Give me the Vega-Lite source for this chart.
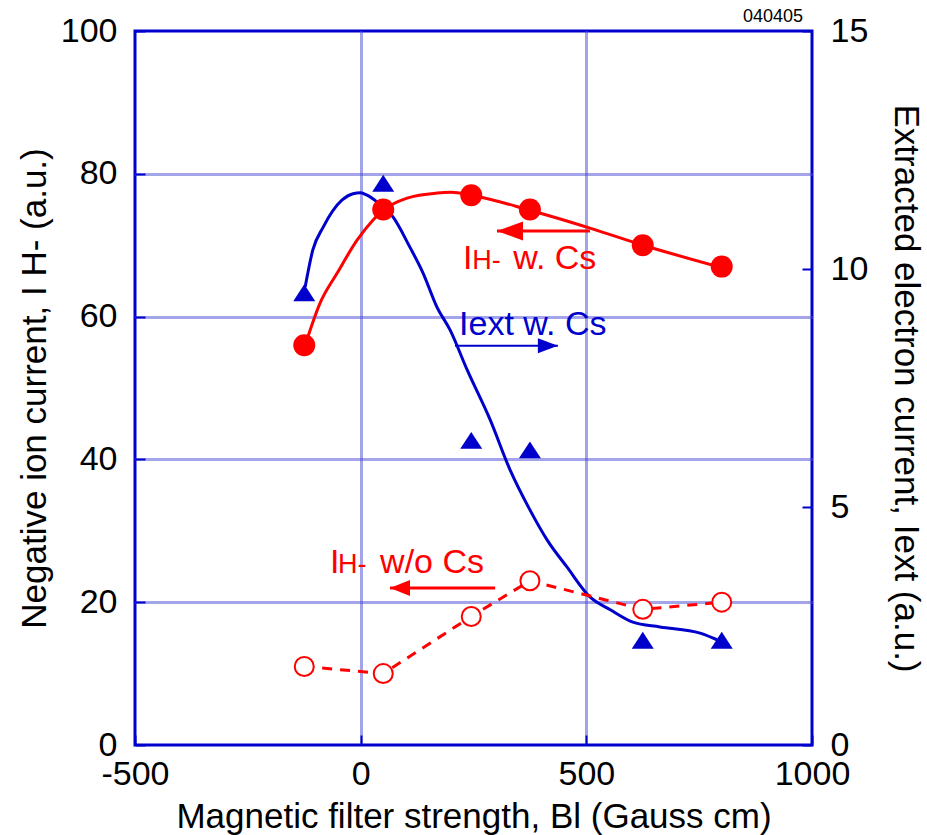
{
  "$schema": "https://vega.github.io/schema/vega-lite/v6.json",
  "width": 677,
  "height": 714,
  "autosize": "none",
  "padding": {"left": 135, "top": 31, "right": 115, "bottom": 90},
  "background": "white",
  "config": {
    "view": {"stroke": "#0000cc", "strokeWidth": 3},
    "font": "Liberation Sans",
    "axis": {
      "labelFont": "Liberation Sans",
      "titleFont": "Liberation Sans",
      "labelColor": "black",
      "titleColor": "black",
      "labelFontSize": 34,
      "titleFontSize": 35,
      "titleFontWeight": "normal",
      "domain": false,
      "tickColor": "#0000cc",
      "tickWidth": 2,
      "tickSize": -10,
      "labelFlush": false,
      "labelOverlap": false,
      "labelExpr": "'' + datum.value"
    }
  },
  "datasets": {
    "withCs": [
      {"x": -125, "y": 56}, {"x": 50, "y": 75}, {"x": 245, "y": 77},
      {"x": 375, "y": 75}, {"x": 625, "y": 70}, {"x": 800, "y": 67}
    ],
    "withoutCs": [
      {"x": -125, "y": 11}, {"x": 50, "y": 10}, {"x": 245, "y": 18},
      {"x": 375, "y": 23}, {"x": 625, "y": 19}, {"x": 800, "y": 20}
    ],
    "iext": [
      {"x": -125, "y": 9.5}, {"x": 50, "y": 11.8}, {"x": 245, "y": 6.4},
      {"x": 375, "y": 6.2}, {"x": 625, "y": 2.2}, {"x": 800, "y": 2.2}
    ],
    "fitRed": [
      {"x": -123, "y": 56.0}, {"x": -90, "y": 61.9}, {"x": -52, "y": 66.1},
      {"x": -8, "y": 70.7}, {"x": 27, "y": 73.5}, {"x": 50, "y": 74.9},
      {"x": 103, "y": 76.6}, {"x": 169, "y": 77.3}, {"x": 200, "y": 77.4},
      {"x": 245, "y": 77.0}, {"x": 375, "y": 74.9}, {"x": 508, "y": 72.4},
      {"x": 626, "y": 70.0}, {"x": 803, "y": 66.8}
    ],
    "fitBlue": [
      {"x": -123, "y": 9.62}, {"x": -106, "y": 10.40}, {"x": -83, "y": 10.88},
      {"x": -41, "y": 11.45}, {"x": -17, "y": 11.58}, {"x": 0, "y": 11.6}, {"x": 14, "y": 11.55},
      {"x": 36, "y": 11.41}, {"x": 72, "y": 11.09}, {"x": 109, "y": 10.46},
      {"x": 138, "y": 9.92}, {"x": 169, "y": 9.20}, {"x": 198, "y": 8.72},
      {"x": 236, "y": 7.88}, {"x": 287, "y": 6.83}, {"x": 331, "y": 5.78},
      {"x": 375, "y": 4.94}, {"x": 413, "y": 4.31}, {"x": 457, "y": 3.74},
      {"x": 508, "y": 3.11}, {"x": 553, "y": 2.84}, {"x": 603, "y": 2.58},
      {"x": 663, "y": 2.48}, {"x": 752, "y": 2.35}, {"x": 790, "y": 2.21},
      {"x": 803, "y": 2.16}
    ],
    "arrows": [
      {"name": "wCs", "x": 508, "x2": 302, "y": 72.0},
      {"name": "iext", "x": 209, "x2": 437, "y": 55.9},
      {"name": "woCs", "x": 298, "x2": 65, "y": 22.0}
    ],
    "bigRed": [
      {"x": 227, "y": 66.7, "t": "I"},
      {"x": 338, "y": 66.7, "t": "w. Cs"},
      {"x": -68, "y": 24.1, "t": "I"},
      {"x": 43, "y": 24.1, "t": "w/o Cs"}
    ],
    "smallRed": [
      {"x": 247, "y": 66.7, "t": "H-"},
      {"x": -50, "y": 24.1, "t": "H-"}
    ],
    "blueText": [
      {"x": 218, "y": 57.4, "t": "Iext w. Cs"}
    ],
    "stamp": [
      {"x": 980, "y": 101.3, "t": "040405"}
    ]
  },
  "encoding": {
    "x": {
      "field": "x",
      "type": "quantitative",
      "scale": {"domain": [-500, 1000], "nice": false, "zero": false},
      "axis": {
        "values": [-500, 0, 500, 1000],
        "title": "Magnetic filter strength, Bl (Gauss cm)",
        "labelPadding": 22,
        "titlePadding": 8,
        "grid": true,
        "gridColor": "#4848d4",
        "gridWidth": 3,
        "gridDash": [1, 1],
        "gridOpacity": {"condition": {"test": "datum.value === -500 || datum.value === 1000", "value": 0}, "value": 1}
      }
    }
  },
  "layer": [
    {
      "encoding": {
        "y": {
          "field": "y",
          "type": "quantitative",
          "scale": {"domain": [0, 15], "nice": false},
          "axis": {
            "orient": "right",
            "values": [0, 5, 10, 15],
            "title": "Extracted electron current, Iext (a.u.)",
            "labelPadding": 28,
            "titlePadding": 20,
            "grid": false
          }
        }
      },
      "layer": [
        {
          "data": {"name": "fitBlue"},
          "mark": {"type": "line", "color": "#0000cc", "strokeWidth": 3, "interpolate": "monotone"}
        },
        {
          "data": {"name": "iext"},
          "mark": {"type": "point", "shape": "M-1,0.77L1,0.77L0,-0.77Z", "size": 484, "filled": true, "color": "#0000cc", "opacity": 1}
        }
      ]
    },
    {
      "encoding": {
        "y": {
          "field": "y",
          "type": "quantitative",
          "scale": {"domain": [0, 100], "nice": false},
          "axis": {
            "orient": "left",
            "values": [0, 20, 40, 60, 80, 100],
            "title": "Negative ion current, I H- (a.u.)",
            "labelPadding": 28,
            "titlePadding": 8,
            "grid": true,
            "gridColor": "#4848d4",
            "gridWidth": 3,
            "gridDash": [1, 1],
            "gridOpacity": {"condition": {"test": "datum.value === 0 || datum.value === 100", "value": 0}, "value": 1}
          }
        }
      },
      "layer": [
        {
          "data": {"name": "fitRed"},
          "mark": {"type": "line", "color": "#ff0000", "strokeWidth": 3, "interpolate": "monotone"}
        },
        {
          "data": {"name": "withoutCs"},
          "mark": {"type": "line", "color": "#ff0000", "strokeWidth": 3, "strokeDash": [10, 8]}
        },
        {
          "data": {"name": "withCs"},
          "mark": {"type": "point", "shape": "circle", "size": 484, "filled": true, "color": "#ff0000", "opacity": 1}
        },
        {
          "data": {"name": "withoutCs"},
          "mark": {"type": "point", "shape": "circle", "size": 361, "fill": "white", "stroke": "#ff0000", "strokeWidth": 2, "opacity": 1}
        },
        {
          "data": {"name": "arrows"},
          "transform": [{"filter": "datum.name !== 'iext'"}],
          "mark": {"type": "rule", "color": "#ff0000", "strokeWidth": 3},
          "encoding": {"x2": {"field": "x2"}}
        },
        {
          "data": {"name": "arrows"},
          "transform": [{"filter": "datum.name === 'iext'"}],
          "mark": {"type": "rule", "color": "#0000cc", "strokeWidth": 2},
          "encoding": {"x2": {"field": "x2"}}
        },
        {
          "data": {"name": "arrows"},
          "transform": [{"filter": "datum.name === 'wCs'"}],
          "mark": {"type": "point", "shape": "M0,0L2,-0.73L2,0.73Z", "size": 676, "filled": true, "color": "#ff0000", "opacity": 1},
          "encoding": {"x": {"field": "x2", "type": "quantitative"}}
        },
        {
          "data": {"name": "arrows"},
          "transform": [{"filter": "datum.name === 'woCs'"}],
          "mark": {"type": "point", "shape": "M0,0L2,-0.8L2,0.8Z", "size": 400, "filled": true, "color": "#ff0000", "opacity": 1},
          "encoding": {"x": {"field": "x2", "type": "quantitative"}}
        },
        {
          "data": {"name": "arrows"},
          "transform": [{"filter": "datum.name === 'iext'"}],
          "mark": {"type": "point", "shape": "M0,0L-2,-0.75L-2,0.75Z", "size": 400, "filled": true, "color": "#0000cc", "opacity": 1},
          "encoding": {"x": {"field": "x2", "type": "quantitative"}}
        },
        {
          "data": {"name": "bigRed"},
          "mark": {"type": "text", "font": "Liberation Sans", "fontSize": 34, "color": "#ff0000", "align": "left", "baseline": "alphabetic"},
          "encoding": {"text": {"field": "t"}}
        },
        {
          "data": {"name": "smallRed"},
          "mark": {"type": "text", "font": "Liberation Sans", "fontSize": 27, "color": "#ff0000", "align": "left", "baseline": "alphabetic"},
          "encoding": {"text": {"field": "t"}}
        },
        {
          "data": {"name": "blueText"},
          "mark": {"type": "text", "font": "Liberation Sans", "fontSize": 34, "color": "#0000cc", "align": "left", "baseline": "alphabetic"},
          "encoding": {"text": {"field": "t"}}
        },
        {
          "data": {"name": "stamp"},
          "mark": {"type": "text", "font": "Liberation Sans", "fontSize": 18, "color": "black", "align": "right", "baseline": "alphabetic"},
          "encoding": {"text": {"field": "t"}}
        }
      ]
    }
  ],
  "resolve": {"scale": {"y": "independent"}}
}
